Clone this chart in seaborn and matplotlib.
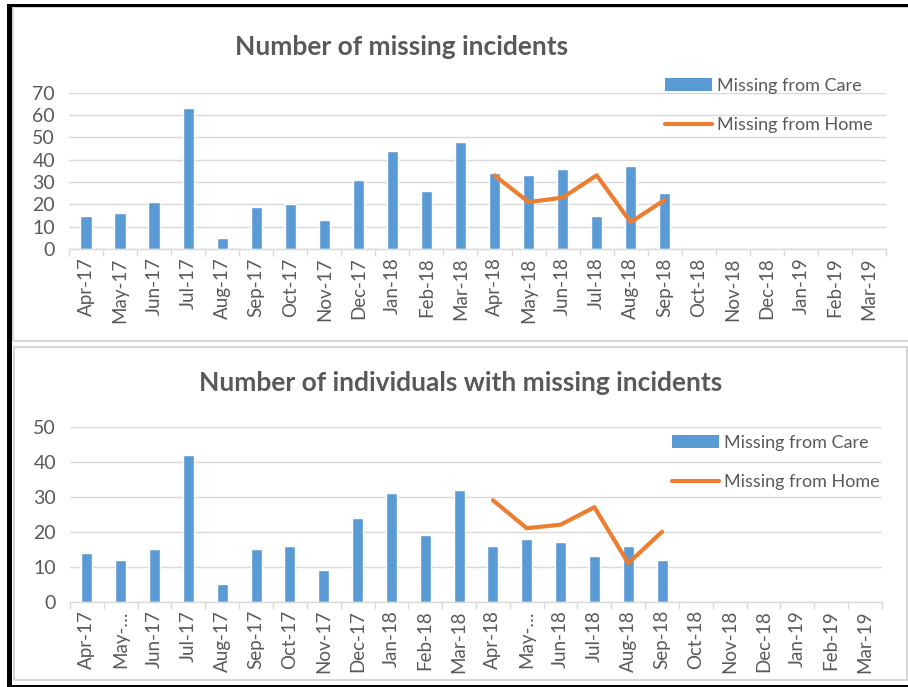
import matplotlib
matplotlib.use("Agg")
import matplotlib.pyplot as plt
import numpy as np
import pandas as pd
import seaborn as sns
from matplotlib.patches import Rectangle
from matplotlib.lines import Line2D

sns.set_theme(style="white")
plt.rcParams["font.family"] = ["Lato", "DejaVu Sans"]

MONTHS = [
    "Apr-17", "May-17", "Jun-17", "Jul-17", "Aug-17", "Sep-17",
    "Oct-17", "Nov-17", "Dec-17", "Jan-18", "Feb-18", "Mar-18",
    "Apr-18", "May-18", "Jun-18", "Jul-18", "Aug-18", "Sep-18",
    "Oct-18", "Nov-18", "Dec-18", "Jan-19", "Feb-19", "Mar-19",
]
HOME_MONTHS = ["Apr-18", "May-18", "Jun-18", "Jul-18", "Aug-18", "Sep-18"]

# top chart: incidents
INCIDENTS_CARE = [15, 16, 21, 63, 5, 19, 20, 13, 31, 44, 26, 48,
                  34, 33, 36, 15, 37, 25]
INCIDENTS_HOME = [33, 21, 23, 33, 12, 22]

# bottom chart: individuals
INDIVIDUALS_CARE = [14, 12, 15, 42, 5, 15, 16, 9, 24, 31, 19, 32,
                    16, 18, 17, 13, 16, 12]
INDIVIDUALS_HOME = [29, 21, 22, 27, 11, 20]

BOTTOM_LABELS = [m if not m.startswith("May") else "May-\u2026" for m in MONTHS]

BLUE = "#5B9BD5"
ORANGE = "#ED7D31"
TEXT = "#595959"
GRID = "#D9D9D9"

W, H = 908, 687


def fig_rect(x0, y0, x1, y1):
    # pixel coords (top-left origin) -> figure fraction rect
    return [x0 / W, 1 - y1 / H, (x1 - x0) / W, (y1 - y0) / H]


def draw_panel(ax, care, home, ymax, labels, title, title_xy, legend_anchor):
    care_full = care + [np.nan] * (len(MONTHS) - len(care))
    df = pd.DataFrame({"month": MONTHS, "value": care_full})
    sns.barplot(data=df, x="month", y="value", order=MONTHS, color=BLUE,
                width=0.33, saturation=1, ax=ax)

    home_df = pd.DataFrame({
        "pos": [MONTHS.index(m) for m in HOME_MONTHS],
        "value": home,
    })
    sns.lineplot(data=home_df, x="pos", y="value", color=ORANGE, lw=3,
                 ax=ax)

    ax.set_xlim(-0.5, len(MONTHS) - 0.5)
    ax.set_ylim(0, ymax)
    ax.set_yticks(np.arange(0, ymax + 1, 10))
    ax.yaxis.grid(True, color=GRID, lw=1)
    ax.set_axisbelow(True)
    for side in ["top", "right", "left"]:
        ax.spines[side].set_visible(False)
    ax.spines["bottom"].set_color(GRID)
    ax.spines["bottom"].set_linewidth(1)

    ax.set_xticks(np.arange(len(MONTHS)))
    ax.set_xticklabels(labels, rotation=90)
    ax.set_xticks(np.arange(-0.5, len(MONTHS)), minor=True)
    ax.tick_params(axis="x", which="major", length=0, pad=6,
                   labelsize=13.5, labelcolor=TEXT)
    ax.tick_params(axis="x", which="minor", length=5, width=1,
                   color=GRID, bottom=True)
    ax.tick_params(axis="y", length=0, pad=10, labelsize=14, labelcolor=TEXT)
    ax.set_xlabel("")
    ax.set_ylabel("")

    handles = [
        Rectangle((0, 0), 1, 1, fc=BLUE, ec="none"),
        Line2D([0], [0], color=ORANGE, lw=3),
    ]
    leg = ax.legend(handles, ["Missing from Care", "Missing from Home"],
                    loc="upper left", bbox_to_anchor=legend_anchor,
                    bbox_transform=ax.figure.transFigure,
                    frameon=False, fontsize=13, handlelength=2.6,
                    handleheight=0.7, handletextpad=0.3, labelspacing=1.3,
                    borderaxespad=0, borderpad=0)
    for t in leg.get_texts():
        t.set_color(TEXT)

    ax.figure.text(title_xy[0] / W, 1 - title_xy[1] / H, title,
                   ha="center", va="center", fontsize=19, fontweight="bold",
                   color=TEXT)


fig = plt.figure(figsize=(W / 100, H / 100), dpi=100)
fig.patch.set_facecolor("white")

# panel borders
for x0, y0, x1, y1 in [(13, 7, 912, 341), (14, 347, 907, 680)]:
    fig.add_artist(Rectangle((x0 / W, 1 - y1 / H), (x1 - x0) / W, (y1 - y0) / H,
                             transform=fig.transFigure, fill=False,
                             ec="#D0D0D0", lw=1.2))
# outer black frame (top, left, bottom)
fig.add_artist(Rectangle((7 / W, 1 - 7 / H), 1, 3 / H, transform=fig.transFigure,
                         fc="black", ec="none"))
fig.add_artist(Rectangle((7 / W, 0), 5 / W, 1 - 4 / H, transform=fig.transFigure,
                         fc="black", ec="none"))
fig.add_artist(Rectangle((7 / W, 0), 1, 2.5 / H, transform=fig.transFigure,
                         fc="black", ec="none"))

ax1 = fig.add_axes(fig_rect(69, 92.7, 886, 249))
draw_panel(ax1, INCIDENTS_CARE, INCIDENTS_HOME, 70, MONTHS,
           "Number of missing incidents", (402, 47),
           (665 / W, 1 - 78 / H))

ax2 = fig.add_axes(fig_rect(70, 426.7, 882, 601.7))
draw_panel(ax2, INDIVIDUALS_CARE, INDIVIDUALS_HOME, 50, BOTTOM_LABELS,
           "Number of individuals with missing incidents", (461, 383),
           (672 / W, 1 - 435 / H))

fig.savefig("out.png", dpi=100, facecolor="white")
